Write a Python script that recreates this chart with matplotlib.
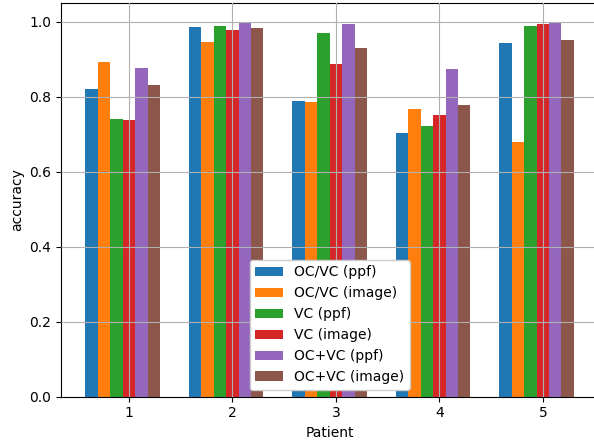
import numpy as np
import matplotlib
matplotlib.use('Agg')
import matplotlib.pyplot as plt

patients = [1, 2, 3, 4, 5]
labels = ['OC/VC (ppf)', 'OC/VC (image)', 'VC (ppf)', 'VC (image)', 'OC+VC (ppf)', 'OC+VC (image)']

oc_vc_ppf = [0.820, 0.986, 0.788, 0.703, 0.943]
oc_vc_image = [0.892, 0.946, 0.785, 0.767, 0.679]
vc_ppf = [0.740, 0.988, 0.969, 0.722, 0.988]
vc_image = [0.738, 0.978, 0.887, 0.751, 0.994]
ocvc_ppf = [0.876, 0.999, 0.994, 0.874, 1.000]
ocvc_image = [0.831, 0.983, 0.930, 0.778, 0.951]

series = [oc_vc_ppf, oc_vc_image, vc_ppf, vc_image, ocvc_ppf, ocvc_image]

fig = plt.figure(figsize=(5.94, 4.40), dpi=100)
ax = fig.add_axes([0.1027, 0.0984, 0.9046, 0.8948])

x = np.array(patients, dtype=float)
width = 0.12
for i, (vals, lab) in enumerate(zip(series, labels)):
    ax.bar(x + (i - 3) * width, vals, width, label=lab)

# grid is drawn on top of the bars in the reference
ax.set_axisbelow(False)
ax.grid(True, color='#b0b0b0', linewidth=0.8)
ax.set_xticks(patients)
ax.set_xlabel('Patient')
ax.set_ylabel('accuracy')
ax.legend(loc='lower center', framealpha=1.0)

fig.savefig('out.png', dpi=100)
